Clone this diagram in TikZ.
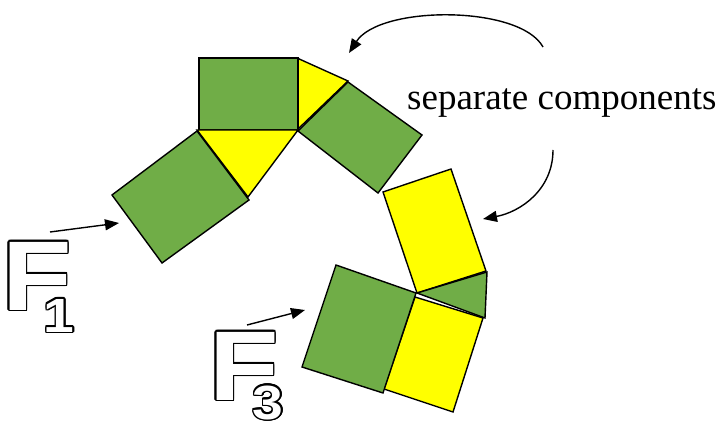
\documentclass[tikz,border=0pt]{standalone}
\usepackage{fontspec}
\setmainfont{Liberation Serif}
\newfontfamily\notefont{Liberation Serif}
\newfontfamily\labelfont{Liberation Sans}[FakeStretch=1.15]
\usetikzlibrary{arrows.meta,calc}
\definecolor{partgreen}{HTML}{70AD47}
\definecolor{partyellow}{HTML}{FFFF00}
\newcommand\hollowlabel[4]{%
  \foreach \ang in {0,22.5,...,337.5}
    \node[font={\labelfont\bfseries\fontsize{#3}{#3}\selectfont}, inner sep=0, anchor=base] at ($(#2)+(\ang:1.5)$) {#4};
  \node[font={\labelfont\bfseries\fontsize{#3}{#3}\selectfont}, text=white, inner sep=0, anchor=base] (#1) at (#2) {#4};}

\begin{document}
\begin{tikzpicture}[x=1pt, y=-1pt, gp/.style={draw, line width=1.4pt, fill=partgreen}, yp/.style={draw, line width=1.4pt, fill=partyellow}, arr/.style={line width=1.4pt, -{Triangle[length=14pt, width=11pt]}}]
\useasboundingbox (0,0) rectangle (720,422);
\draw[yp] (297,58) -- (348,81) -- (297,130) -- cycle;
\draw[gp] (199,58) rectangle (298,130);
\draw[yp] (197,130) -- (298,130) -- (248,197) -- cycle;
\draw[gp] (197,131) -- (249,200) -- (162,263) -- (112,195) -- cycle;
\draw[gp] (298,131) -- (348,82) -- (422,135) -- (378,193) -- cycle;
\draw[yp] (383,192) -- (451,169) -- (486,271) -- (417,293) -- cycle;
\draw[gp] (417,293) -- (487,272) -- (485,318) -- cycle;
\draw[yp] (415,297) -- (483,318) -- (453,412) -- (384,389) -- cycle;
\draw[gp] (336,265) -- (416,293) -- (383,393) -- (302,367) -- cycle;
\node[font={\notefont\fontsize{37}{40}\selectfont}, inner sep=0, anchor=base west] (sep) at (407,110) {separate components};
\coordinate (top s) at (543,47); \coordinate (top e) at (349,53);
\coordinate (low s) at (553,150); \coordinate (low e) at (483,219);
\draw[arr] (top s) .. controls (520,5) and (380,5) .. (top e);
\draw[arr] (low s) .. controls (553,190) and (520,212) .. (low e);
\hollowlabel{f1}{37,310}{99}{F}
\hollowlabel{f1sub}{59,332}{48}{1}
\hollowlabel{f3}{244,400}{99}{F}
\hollowlabel{f3sub}{268,419}{48}{3}
\coordinate (f1 s) at (50,232); \coordinate (f1 e) at (119,223);
\coordinate (f3 s) at (247,325); \coordinate (f3 e) at (305,310);
\draw[arr] (f1 s) -- (f1 e);
\draw[arr] (f3 s) -- (f3 e);
\end{tikzpicture}
\end{document}
